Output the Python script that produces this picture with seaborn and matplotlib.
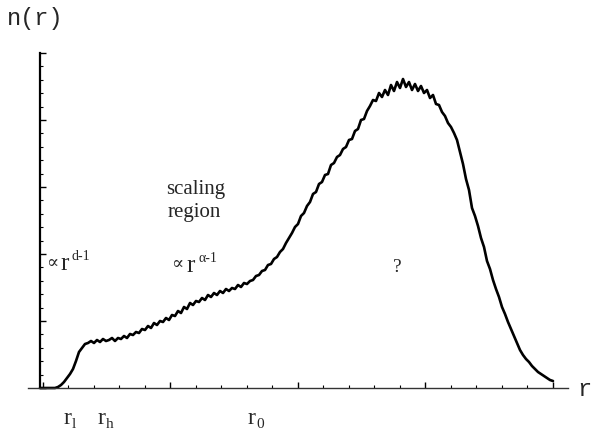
import matplotlib
matplotlib.use("Agg")
import matplotlib.pyplot as plt
import seaborn as sns
import numpy as np
import pandas as pd

# radius (arbitrary units) and n(r) (arbitrary units)
r_vals = [0, 3, 6, 9, 12, 15, 18, 21, 24, 27, 30, 33, 36, 39, 42, 45, 48, 51, 54, 57,
          60, 63, 66, 69, 72, 75, 78, 81, 84, 87, 90, 93, 96, 99, 102, 105, 108, 111, 114, 117,
          120, 123, 126, 129, 132, 135, 138, 141, 144, 147, 150, 153, 156, 159, 162, 165, 168, 171, 174, 177,
          180, 183, 186, 189, 192, 195, 198, 201, 204, 207, 210, 213, 216, 219, 222, 225, 228, 231, 234, 237,
          240, 243, 246, 249, 252, 255, 258, 261, 264, 267, 270, 273, 276, 279, 282, 285, 288, 291, 294, 297,
          300, 303, 306, 309, 312, 315, 318, 321, 324, 327, 330, 333, 336, 339, 342, 345, 348, 351, 354, 357,
          360, 363, 366, 369, 372, 375, 378, 381, 384, 387, 390, 393, 396, 399, 402, 405, 408, 411, 414, 417,
          420, 423, 426, 429, 432, 435, 438, 441, 444, 447, 450, 453, 456, 459, 462, 465, 468, 471, 474, 477,
          480, 483, 486, 489, 492, 495, 498, 501, 504, 507, 510, 513]
n_vals = [0, 0, 0, 0, 0, 0, 1, 3, 6, 10, 14, 19, 27, 36, 40, 44, 45, 47, 45, 48,
          46, 49, 47, 48, 50, 47, 50, 49, 52, 50, 54, 53, 56, 55, 59, 58, 62, 60, 65, 63,
          67, 66, 70, 68, 73, 72, 77, 75, 81, 79, 85, 83, 87, 86, 90, 88, 93, 91, 95, 93,
          97, 95, 99, 97, 100, 99, 103, 101, 105, 104, 107, 108, 112, 113, 117, 118, 123, 124, 129, 131,
          136, 139, 145, 150, 155, 161, 164, 172, 175, 182, 186, 194, 196, 204, 206, 213, 214, 223, 225, 231,
          233, 239, 241, 248, 249, 257, 259, 268, 269, 277, 282, 288, 287, 295, 291, 298, 293, 303, 297, 306,
          300, 309, 301, 306, 298, 304, 297, 302, 295, 298, 290, 293, 284, 283, 276, 272, 265, 261, 255, 248,
          236, 224, 209, 198, 180, 172, 162, 150, 141, 127, 119, 108, 99, 91, 81, 74, 66, 59, 52, 45,
          38, 33, 29, 26, 22, 19, 16, 14, 12, 10, 8, 7]

x_minor_ticks = [2.5 + 25.5 * k for k in range(21)]
x_major_ticks = [2.5 + 25.5 * k for k in range(0, 21, 5)]
y_minor_ticks = [13.4 * k for k in range(26)]
y_major_ticks = [67 * k for k in range(6)]

df = pd.DataFrame({"r": r_vals, "n": n_vals})

sns.set_style("white")
W, H = 592, 437
fig = plt.figure(figsize=(W / 100, H / 100), dpi=100)

def fx(x):
    return x / W

def fy(y):
    return 1 - y / H

# axes spanning pixel x 28..568, y 53..388
ax = fig.add_axes([fx(28), fy(388), (568 - 28) / W, (388 - 53) / H])
ax.set_xlim(-12, 528)
ax.set_ylim(0, 335)
sns.lineplot(data=df, x="r", y="n", ax=ax, color="black", linewidth=1.9, clip_on=False)
ax.set_xlabel("")
ax.set_ylabel("")

for s in ["top", "right"]:
    ax.spines[s].set_visible(False)
ax.spines["left"].set_position(("data", 0))
ax.spines["left"].set_linewidth(1.6)
ax.spines["bottom"].set_linewidth(1.0)
ax.spines["left"].set_color("black")
ax.spines["bottom"].set_color("#333333")

ax.set_xticks(x_major_ticks)
ax.set_xticks(x_minor_ticks, minor=True)
ax.set_yticks(y_major_ticks)
ax.set_yticks(y_minor_ticks, minor=True)
ax.tick_params(axis="both", which="both", bottom=True, left=True, top=False, right=False,
               direction="in", color="black")
ax.tick_params(axis="both", which="major", length=4.5, width=1.0,
               labelbottom=False, labelleft=False)
ax.tick_params(axis="both", which="minor", length=2.5, width=0.8)
ax.grid(False)

mono = "Liberation Mono"
serif = ["Liberation Serif", "DejaVu Serif"]

fig.text(fx(7), fy(18), "n(r)", family=mono, fontsize=17, ha="left", va="center")
fig.text(fx(577), fy(389), "r", family=mono, fontsize=17, ha="left", va="center")

fig.text(fx(196), fy(189), "scaling", family=serif, fontsize=15, ha="center", va="center")
fig.text(fx(194), fy(213), "region", family=serif, fontsize=15, ha="center", va="center")

# proportional-to labels
fig.text(fx(46), fy(263), "\u221d", family=["DejaVu Serif"], fontsize=13, ha="left", va="center")
fig.text(fx(60), fy(264), "r", family=serif, fontsize=18, ha="left", va="center")
fig.text(fx(71), fy(256), "d-1", family=serif, fontsize=10, ha="left", va="center")

fig.text(fx(171), fy(264), "\u221d", family=["DejaVu Serif"], fontsize=13, ha="left", va="center")
fig.text(fx(186), fy(266), "r", family=serif, fontsize=18, ha="left", va="center")
fig.text(fx(198), fy(258), "\u03b1-1", family=serif, fontsize=10, ha="left", va="center")

fig.text(fx(397), fy(267), "?", family=serif, fontsize=14, ha="center", va="center")

# r_l, r_h, r_0 marks
for xr, sub in [(63, "l"), (97, "h"), (247, "0")]:
    fig.text(fx(xr), fy(418), "r", family=serif, fontsize=17, ha="left", va="center")
    fig.text(fx(xr + 9), fy(424), sub, family=serif, fontsize=11, ha="left", va="center")

fig.savefig("out.png", dpi=100, facecolor="white")
